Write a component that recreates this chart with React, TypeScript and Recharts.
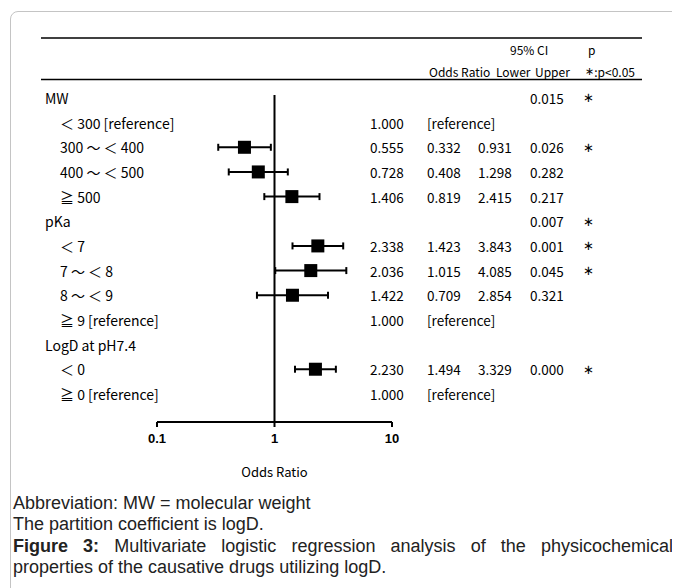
import React from 'react';
import { ComposedChart, Scatter, XAxis, YAxis, ErrorBar, ReferenceLine } from 'recharts';

// ---- data ----
const rowLabels = [
  'MW',
  '＜ 300 [reference]',
  '300 ～ ＜ 400',
  '400 ～ ＜ 500',
  '≧ 500',
  'pKa',
  '＜ 7',
  '7 ～ ＜ 8',
  '8 ～ ＜ 9',
  '≧ 9 [reference]',
  'LogD at pH7.4',
  '＜ 0',
  '≧ 0 [reference]',
];
const isGroupRow = [true, false, false, false, false, true, false, false, false, false, true, false, false];
const oddsRatios: (number | null)[] = [null, 1.0, 0.555, 0.728, 1.406, null, 2.338, 2.036, 1.422, 1.0, null, 2.23, 1.0];
const ciLower: (number | null)[] = [null, null, 0.332, 0.408, 0.819, null, 1.423, 1.015, 0.709, null, null, 1.494, null];
const ciUpper: (number | null)[] = [null, null, 0.931, 1.298, 2.415, null, 3.843, 4.085, 2.854, null, null, 3.329, null];
const pValues = ['0.015', '', '0.026', '0.282', '0.217', '0.007', '0.001', '0.045', '0.321', '', '', '0.000', ''];
const significant = [true, false, true, false, false, true, true, true, false, false, false, true, false];
const xTicks = [0.1, 1, 10];

const rows = rowLabels.map((label, i) => ({
  row: i,
  label,
  group: isGroupRow[i],
  or: oddsRatios[i],
  lo: ciLower[i],
  hi: ciUpper[i],
  p: pValues[i],
  sig: significant[i],
}));

const points = rows
  .filter((r) => r.or != null && r.lo != null && r.hi != null)
  .map((r) => ({ or: r.or as number, row: r.row, err: [(r.or as number) - (r.lo as number), (r.hi as number) - (r.or as number)] }));

const JP = "'Noto Sans CJK JP', 'Noto Sans', sans-serif";
const ARIAL = "'Liberation Sans', Arial, sans-serif";
const STAR = "'DejaVu Sans', sans-serif";

const COL = { label: 37, sub: 52, or: 362, lo: 419, hi: 470, p: 522, star: 575 };

const RowTick = (props: any) => {
  const { y, payload } = props;
  const r = rows[payload.value];
  if (!r) return null;
  const common = { y, dominantBaseline: 'central' as const, fill: '#000', fontFamily: JP };
  return (
    <g>
      <text {...common} x={r.group ? COL.label : COL.sub} fontSize={14}>
        {r.label}
      </text>
      {r.or != null && (
        <text {...common} x={COL.or} fontSize={13.5}>
          {r.or.toFixed(3)}
        </text>
      )}
      {r.or != null && r.lo == null && (
        <text {...common} x={COL.lo} fontSize={13.5}>
          [reference]
        </text>
      )}
      {r.lo != null && (
        <text {...common} x={COL.lo} fontSize={13.5}>
          {r.lo.toFixed(3)}
        </text>
      )}
      {r.hi != null && (
        <text {...common} x={COL.hi} fontSize={13.5}>
          {r.hi.toFixed(3)}
        </text>
      )}
      {r.p && (
        <text {...common} x={COL.p} fontSize={13.5}>
          {r.p}
        </text>
      )}
      {r.sig && (
        <text {...common} x={COL.star} fontSize={13} fontFamily={STAR}>
          ∗
        </text>
      )}
    </g>
  );
};

const AxisTick = (props: any) => {
  const { x, y, payload } = props;
  return (
    <text x={x} y={y + 9} textAnchor="middle" dominantBaseline="central" fontFamily={ARIAL} fontWeight="bold" fontSize={13} fill="#000">
      {payload.value}
    </text>
  );
};

const SquareMarker = (props: any) => {
  const { cx, cy } = props;
  return <rect x={cx - 6.5} y={cy - 6.5} width={13} height={13} fill="#000" />;
};

export default function App() {
  return (
    <div style={{ position: 'relative', width: 672, height: 580, overflow: 'hidden' }}>
      <style>{'html,body{overflow:hidden}'}</style>
      <div
        style={{
          position: 'absolute',
          left: 2,
          top: 3,
          width: 720,
          height: 640,
          border: '1px solid #c4c4c4',
          borderRadius: 8,
          boxSizing: 'border-box',
        }}
      />
      <svg width={672} height={90} style={{ position: 'absolute', left: 0, top: 0 }}>
        <line x1={33} x2={634} y1={30} y2={30} stroke="#000" strokeWidth={1.6} />
        <line x1={33} x2={634} y1={71.5} y2={71.5} stroke="#000" strokeWidth={1.6} />
        <g fontFamily={JP} fontSize={12} fill="#000" dominantBaseline="central">
          <text x={502} y={41}>95% CI</text>
          <text x={580} y={41}>p</text>
          <text x={421} y={63}>Odds Ratio</text>
          <text x={488} y={63}>Lower</text>
          <text x={527} y={63}>Upper</text>
          <text x={577} y={63}>
            <tspan fontFamily={STAR} fontSize={11}>∗</tspan>:p&lt;0.05
          </text>
        </g>
      </svg>
      <div style={{ position: 'absolute', left: 0, top: 0 }}>
        <ComposedChart width={672} height={480} margin={{ top: 87, right: 288, bottom: 6, left: 0 }}>
          <XAxis
            type="number"
            dataKey="or"
            scale="log"
            domain={[0.1, 10]}
            ticks={xTicks}
            allowDataOverflow
            height={60}
            axisLine={{ stroke: '#000', strokeWidth: 2 }}
            tickLine={{ stroke: '#000', strokeWidth: 2 }}
            tickSize={5}
            tick={<AxisTick />}
            label={{ value: 'Odds Ratio', position: 'insideBottom', offset: 5, fontSize: 13, fontFamily: JP, fill: '#000' }}
          />
          <YAxis
            type="number"
            dataKey="row"
            domain={[-0.12, 13.14]}
            reversed
            allowDataOverflow
            ticks={rows.map((r) => r.row)}
            interval={0}
            axisLine={false}
            tickLine={false}
            width={149}
            tick={<RowTick />}
          />
          <ReferenceLine x={1} stroke="#000" strokeWidth={2} />
          <Scatter data={points} isAnimationActive={false} shape={<SquareMarker />}>
            <ErrorBar dataKey="err" direction="x" width={3.5} stroke="#000" strokeWidth={2} />
          </Scatter>
        </ComposedChart>
      </div>
      <div
        style={{
          position: 'absolute',
          left: 5,
          top: 484.5,
          width: 660,
          fontFamily: ARIAL,
          fontSize: 18,
          lineHeight: '21.5px',
          color: '#222',
        }}
      >
        <div>Abbreviation: MW = molecular weight</div>
        <div>The partition coefficient is logD.</div>
        <div style={{ textAlign: 'justify', textAlignLast: 'justify', whiteSpace: 'nowrap' as any }}>
          <b>Figure 3:</b>&nbsp;Multivariate logistic regression analysis of the physicochemical
        </div>
        <div>properties of the causative drugs utilizing logD.</div>
      </div>
    </div>
  );
}
